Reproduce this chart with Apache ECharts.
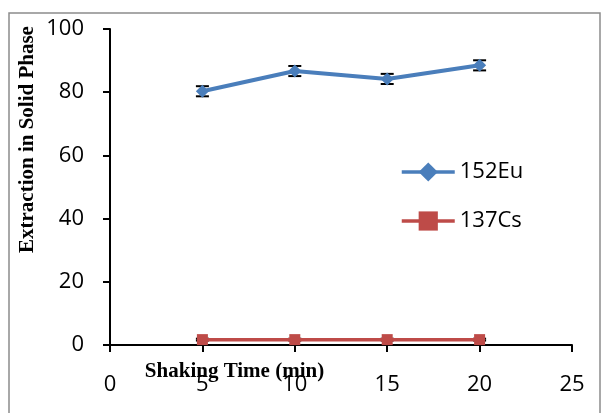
<!DOCTYPE html>
<html>
<head>
<meta charset="utf-8">
<script src="https://cdn.jsdelivr.net/npm/echarts@6/dist/echarts.min.js"></script>
<style>
  html, body { margin: 0; padding: 0; background: #fff; }
  #chart { width: 609px; height: 413px; }
</style>
</head>
<body>
<div id="chart"></div>
<script>
// shaking time (min)
const times = [5, 10, 15, 20];
const eu152 = [80.3, 86.7, 84.2, 88.5];
const eu152Err = [1.6, 1.6, 1.6, 1.6];
const cs137 = [1.7, 1.7, 1.7, 1.7];
const cs137Err = [0.3, 0.3, 0.3, 0.3];
const yTitle = 'Extraction in Solid Phase';
const xTitle = 'Shaking Time (min)';

const chartDom = document.getElementById('chart');
const myChart = echarts.init(chartDom);

const pairs = (ys) => times.map((t, i) => [t, ys[i]]);
const errData = (ys, errs) => times.map((t, i) => [t, ys[i] - errs[i], ys[i] + errs[i]]);

const errorBars = (params, api) => {
  const x = api.value(0);
  const lo = api.coord([x, api.value(1)]);
  const hi = api.coord([x, api.value(2)]);
  const half = 6.5;
  const style = { stroke: '#000', lineWidth: 2 };
  return {
    type: 'group',
    children: [
      { type: 'line', shape: { x1: hi[0], y1: hi[1], x2: lo[0], y2: lo[1] }, style },
      { type: 'line', shape: { x1: hi[0] - half, y1: hi[1], x2: hi[0] + half, y2: hi[1] }, style },
      { type: 'line', shape: { x1: lo[0] - half, y1: lo[1], x2: lo[0] + half, y2: lo[1] }, style }
    ]
  };
};

const tickFont = { fontFamily: 'Open Sans', fontSize: 22, color: '#000' };
const titleFont = { fontFamily: 'Liberation Serif', fontWeight: 'bold', fontSize: 21, color: '#000' };

const option = {
  animation: false,
  graphic: [
    {
      type: 'rect',
      shape: { x: 9, y: 13, width: 591, height: 420 },
      style: { fill: 'none', stroke: '#8c8c8c', lineWidth: 1.5 },
      z: 0
    },
    {
      type: 'text',
      x: 27.5,
      y: 253,
      rotation: Math.PI / 2,
      style: {
        text: yTitle,
        font: 'bold 21px "Liberation Serif"',
        fill: '#000',
        align: 'left',
        verticalAlign: 'middle'
      }
    }
  ],
  grid: { left: 110, top: 29, right: 37, bottom: 68, containLabel: false, outerBoundsMode: 'none' },
  legend: {
    orient: 'vertical',
    left: 395,
    top: 155,
    itemGap: 25,
    itemWidth: 53,
    itemHeight: 24,
    lineStyle: { width: 3.5 },
    textStyle: { ...tickFont, lineHeight: 24 },
    data: ['152Eu', '137Cs']
  },
  xAxis: {
    type: 'value',
    min: 0,
    max: 25,
    interval: 5,
    name: xTitle,
    nameLocation: 'middle',
    nameGap: 16,
    nameMoveOverlap: false,
    nameTextStyle: { ...titleFont, padding: [0, 213, 0, 0] },
    axisLine: { lineStyle: { color: '#000', width: 2 } },
    axisTick: { show: true, length: 7, inside: false, lineStyle: { color: '#000', width: 2 } },
    axisLabel: { ...tickFont, margin: 29 },
    splitLine: { show: false }
  },
  yAxis: {
    type: 'value',
    min: 0,
    max: 100,
    interval: 20,
    axisLine: { show: true, lineStyle: { color: '#000', width: 2 } },
    axisTick: { show: true, length: 7, lineStyle: { color: '#000', width: 2 } },
    axisLabel: { ...tickFont, margin: 26 },
    splitLine: { show: false }
  },
  series: [
    {
      name: '152Eu',
      type: 'line',
      data: pairs(eu152),
      symbol: 'diamond',
      symbolSize: 13,
      lineStyle: { color: '#4A7EBB', width: 4 },
      itemStyle: { color: '#4A7EBB' },
      z: 3
    },
    {
      name: '137Cs',
      type: 'line',
      data: pairs(cs137),
      symbol: 'rect',
      symbolSize: 11,
      lineStyle: { color: '#BE4B48', width: 3.5 },
      itemStyle: { color: '#BE4B48' },
      z: 3
    },
    {
      type: 'custom',
      renderItem: errorBars,
      data: errData(eu152, eu152Err),
      z: 2
    },
    {
      type: 'custom',
      renderItem: errorBars,
      data: errData(cs137, cs137Err),
      z: 2
    }
  ]
};

myChart.setOption(option);
</script>
</body>
</html>
